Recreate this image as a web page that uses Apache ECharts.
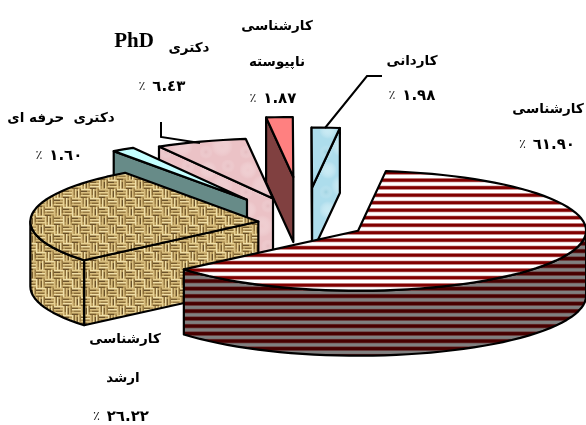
<!DOCTYPE html>
<html><head><meta charset="utf-8">
<style>html,body{margin:0;padding:0;background:#fff}#c{width:586px;height:425px}</style>
<script src="https://cdn.jsdelivr.net/npm/echarts@6/dist/echarts.min.js"></script>
</head><body><div id="c"></div>
<script>
// ---- data (clockwise from the start angle) ----
var categories = ['کارشناسی', 'کارشناسی ارشد', 'دکتری حرفه ای', 'دکتری PhD', 'کارشناسی ناپیوسته', 'کاردانی'];
var percentValues = [61.90, 26.22, 1.60, 6.43, 1.87, 1.98];
var percentLabels = ['٦١.٩٠', '٢٦.٢٢', '١.٦٠', '٦.٤٣', '١.٨٧', '١.٩٨'];

// ---- layout & style ----
var PIE = {cx: 304, cy: 223, rx: 228, ry: 60, depth: 65, start: 83};
var explode = [61.5, 46, 105, 98, 175, 135];
var FONT = 'bold 13.5px "DejaVu Sans"';
var textLayout = [
  [['کارشناسی', 548, 109], [2, 547, 145]],
  [['کارشناسی', 125, 339], ['ارشد', 123, 378], [2, 121, 417]],
  [['دکتری  حرفه ای', 61, 118], [2, 59, 156]],
  [['دکتری', 189, 48], ['PhD', 134, 42, 'bold 21px "Liberation Serif"'], [2, 162, 87]],
  [['کارشناسی', 277, 26], ['ناپیوسته', 277, 62], [2, 273, 99]],
  [['کاردانی', 412, 61], [2, 412, 96]]
];
var leaders = [null, null, null, [[161, 122], [161, 137], [200, 143]], null, [[325, 128], [367, 76], [382, 76]]];

function tile(w, h, draw) {
  var c = document.createElement('canvas'); c.width = w; c.height = h;
  draw(c.getContext('2d'), w, h);
  return {image: c, repeat: 'repeat'};
}
function stripes(base, band, soft, phase, bandH) {
  return tile(16, 15, function (g, w, h) {
    g.fillStyle = base; g.fillRect(0, 0, w, h);
    [-15, -7.5, 0, 7.5, 15].forEach(function (o) {
      g.fillStyle = soft; g.fillRect(0, o + phase - bandH / 2 - 0.7, w, bandH + 1.4);
      g.fillStyle = band; g.fillRect(0, o + phase - bandH / 2, w, bandH);
    });
  });
}
function burlap() {
  // basket weave: alternating blocks of horizontal and vertical strands, softly blurred
  return tile(36, 36, function (g, w, h) {
    var raw = document.createElement('canvas'); raw.width = w; raw.height = h;
    var r = raw.getContext('2d');
    r.fillStyle = '#B39556'; r.fillRect(0, 0, w, h);
    var s = 9, n = 4;
    var lights = ['#F0DFA8', '#D9BF80', '#E8D294'];
    var darks = ['#5A4320', '#7E6230', '#6A5026', '#927540'];
    for (var i = 0; i < n; i++) for (var j = 0; j < n; j++) {
      var x = i * s, y = j * s, hor = (i + j) % 2 === 0;
      for (var k = 0; k < 3; k++) {
        r.fillStyle = lights[(i * 2 + j + k) % 3];
        if (hor) r.fillRect(x, y + k * 3, s, 1.4);
        else r.fillRect(x + k * 3, y, 1.4, s);
        r.fillStyle = darks[(i + j * 3 + k) % 4];
        if (hor) r.fillRect(x + (k * 2) % 4, y + k * 3 + 1.8, s - 3, 1);
        else r.fillRect(x + k * 3 + 1.8, y + (k * 2) % 4, 1, s - 3);
      }
    }
    // wrap-aware blur
    g.filter = 'blur(0.6px)';
    [-w, 0, w].forEach(function (dx) { [-h, 0, h].forEach(function (dy) { g.drawImage(raw, dx, dy); }); });
    g.filter = 'none';
  });
}
function marble(base, light, dark) {
  return tile(40, 40, function (g, w, h) {
    g.fillStyle = base; g.fillRect(0, 0, w, h);
    [[8, 10, 9, light], [28, 6, 7, dark], [22, 26, 11, light], [6, 32, 7, dark]].forEach(function (b) {
      var r = g.createRadialGradient(b[0], b[1], 0, b[0], b[1], b[2]);
      r.addColorStop(0, b[3]); r.addColorStop(1, 'rgba(255,255,255,0)');
      g.fillStyle = r; g.fillRect(0, 0, w, h);
    });
  });
}
var blueFill = marble('#ADDDEC', 'rgba(205,238,246,.8)', 'rgba(145,200,215,.5)');
var pinkFill = marble('#EBC2C6', 'rgba(240,206,209,.6)', 'rgba(224,182,187,.5)');
var burlapFill = burlap();
var sliceStyles = [
  {top: stripes('#FFFFFF', '#800000', '#D8A8A8', 0.2, 3), wall: stripes('#808080', '#480000', '#6A3838', 3.6, 3)},
  {top: burlapFill, wall: burlapFill},
  {top: '#C4FFFF', wall: '#678B88'},
  {top: pinkFill, wall: pinkFill},
  {top: '#FF8080', wall: '#804040'},
  {top: blueFill, wall: blueFill}
];

// ---- geometry derived from the values ----
var total = percentValues.reduce(function (a, b) { return a + b; }, 0);
var bounds = [], acc = PIE.start;
percentValues.forEach(function (v) { var a = acc; acc -= v / total * 360; bounds.push([a, acc]); });
function pt(center, deg, dy) {
  var r = deg * Math.PI / 180;
  return [center[0] + PIE.rx * Math.cos(r), center[1] - PIE.ry * Math.sin(r) + (dy || 0)];
}
function arc(center, from, to, dy) {
  var out = [], n = Math.max(2, Math.ceil(Math.abs(to - from) / 3));
  for (var i = 0; i <= n; i++) out.push(pt(center, from + (to - from) * i / n, dy));
  return out;
}
var LINE = {stroke: '#000', lineWidth: 2.2, lineJoin: 'round'};
function poly(points, fill) {
  return {type: 'polygon', shape: {points: points}, style: Object.assign({fill: fill}, LINE), silent: true};
}
function renderItem(params, api) {
  var i = percentValues.length - 1 - params.dataIndex;   // far slices first, main slice last
  var a1 = bounds[i][0], a2 = bounds[i][1], mid = (a1 + a2) / 2 * Math.PI / 180;
  var c = [PIE.cx + explode[i] * Math.cos(mid), PIE.cy - explode[i] * Math.sin(mid) * PIE.ry / PIE.rx];
  var st = sliceStyles[i], kids = [], d = PIE.depth;
  function cut(a) {
    var p = pt(c, a);
    kids.push(poly([c, p, [p[0], p[1] + d], [c[0], c[1] + d]], st.wall));
  }
  if (Math.cos(a1 * Math.PI / 180) < -0.001) cut(a1);
  if (Math.cos(a2 * Math.PI / 180) > 0.001) cut(a2);
  // outer rim: part of the arc on the lower half of the ellipse
  var lo = Math.max(a2, -180), hi = Math.min(a1, 0);
  if (a1 > 180 && a2 < 180) { lo = 180; hi = a1; }
  else if (a1 <= 180 && a1 > 0 && a2 >= 0) { lo = 1; hi = 0; }
  if (hi > lo) {
    var rimTop = arc(c, hi, lo), rimBot = arc(c, lo, hi, d);
    kids.push(poly(rimTop.concat(rimBot), st.wall));
  }
  kids.push(poly([c].concat(arc(c, a1, a2)), st.top));
  if (leaders[i]) kids.push({type: 'polyline', shape: {points: leaders[i]}, style: {stroke: '#000', lineWidth: 2, fill: null}, silent: true});
  textLayout[i].forEach(function (t) {
    var isPct = t[0] === 2;
    var style = {
      text: isPct ? '{p|٪}  {n|' + percentLabels[i] + '}' : t[0], x: t[1], y: t[2],
      fill: '#000', textAlign: 'center', textVerticalAlign: 'middle'
    };
    if (isPct) style.rich = {
      p: {font: '13px "DejaVu Sans"', fill: '#222'},
      n: {font: 'bold 15px "DejaVu Sans"', fill: '#000'}
    };
    else style.font = t[3] || FONT;
    kids.push({type: 'text', silent: true, style: style});
  });
  return {type: 'group', children: kids};
}

var chart = echarts.init(document.getElementById('c'), null, {renderer: 'canvas'});
chart.setOption({
  animation: false,
  backgroundColor: '#fff',
  series: [{
    type: 'custom',
    coordinateSystem: 'none',
    renderItem: renderItem,
    clip: false,
    data: percentValues.map(function (v, i) { return {value: v, name: categories[i]}; }).reverse()
  }]
});
</script></body></html>
